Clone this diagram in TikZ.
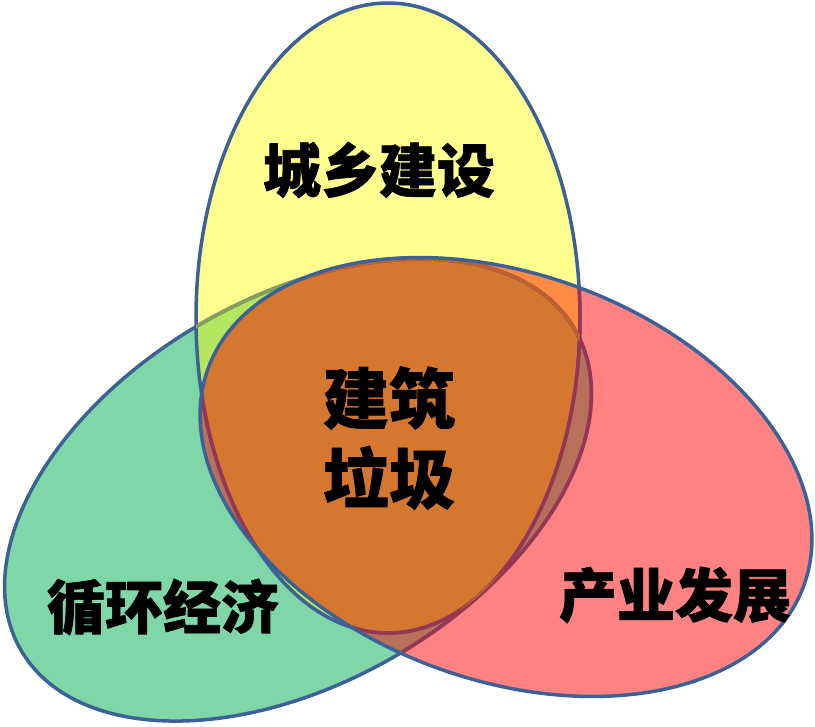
\documentclass[tikz,border=0pt]{standalone}
\usepackage{fontspec}
\newfontfamily\cjk{Noto Sans CJK SC}[BoldFeatures={FakeBold=1.2}]
\definecolor{cyel}{HTML}{FFFF8F}
\definecolor{cgrn}{HTML}{7FD7A8}
\definecolor{cred}{HTML}{FF8282}
\definecolor{cgy}{HTML}{B5E660}
\definecolor{cyr}{HTML}{FF8A44}
\definecolor{cgr}{HTML}{B8705A}
\definecolor{call}{HTML}{D6772F}
\definecolor{cblue}{HTML}{3B6196}
\definecolor{cdred}{HTML}{993452}
\definecolor{colive}{HTML}{8A9E5C}
\definecolor{cobr}{HTML}{C0602E}
\begin{document}
\begin{tikzpicture}[x=1pt,y=-1pt,line join=round,
  outl/.style={line width=3.5pt},
  lbl/.style={font=\cjk\bfseries\fontsize{58}{64}\selectfont,inner sep=0pt},
  clbl/.style={font=\cjk\bfseries\fontsize{66}{80}\selectfont,inner sep=0pt,align=center}]
\useasboundingbox (0,0) rectangle (815,727);
\def\Gp{[rotate around={30:(298,490)}] (298,490) ellipse [x radius=320,y radius=192.5]}
\def\Yp{(388,318) ellipse [x radius=192,y radius=315]}
\def\Rp{[rotate around={-20:(506,477)}] (506,477) ellipse [x radius=317,y radius=203]}
% single fills
\fill[cgrn] \Gp;
\fill[cyel] \Yp;
\fill[cred] \Rp;
% pairwise and triple overlaps
\begin{scope}\clip \Gp; \fill[cgy] \Yp; \end{scope}
\begin{scope}\clip \Yp; \fill[cyr] \Rp; \end{scope}
\begin{scope}\clip \Gp; \fill[cgr] \Rp; \end{scope}
\begin{scope}\clip \Gp; \clip \Yp; \fill[call] \Rp; \end{scope}
% outlines
\draw[outl,cblue] \Gp;
\draw[outl,cblue] \Yp;
\begin{scope}\clip \Yp; \draw[outl,colive] \Gp; \end{scope}
\begin{scope}\clip \Rp; \draw[outl,cdred] \Gp; \draw[outl,cdred] \Yp; \end{scope}
\begin{scope}\clip \Rp; \clip \Yp; \draw[outl,cobr] \Gp; \end{scope}
\draw[outl,cblue] \Rp;
% labels
\node[lbl] (t1) at (379,170) {城乡建设};
\node[lbl] (t2) at (163,607) {循环经济};
\node[lbl] (t3) at (675,595) {产业发展};
\node[clbl] (t4) at (389,438) {建筑\\垃圾};
\end{tikzpicture}
\end{document}
